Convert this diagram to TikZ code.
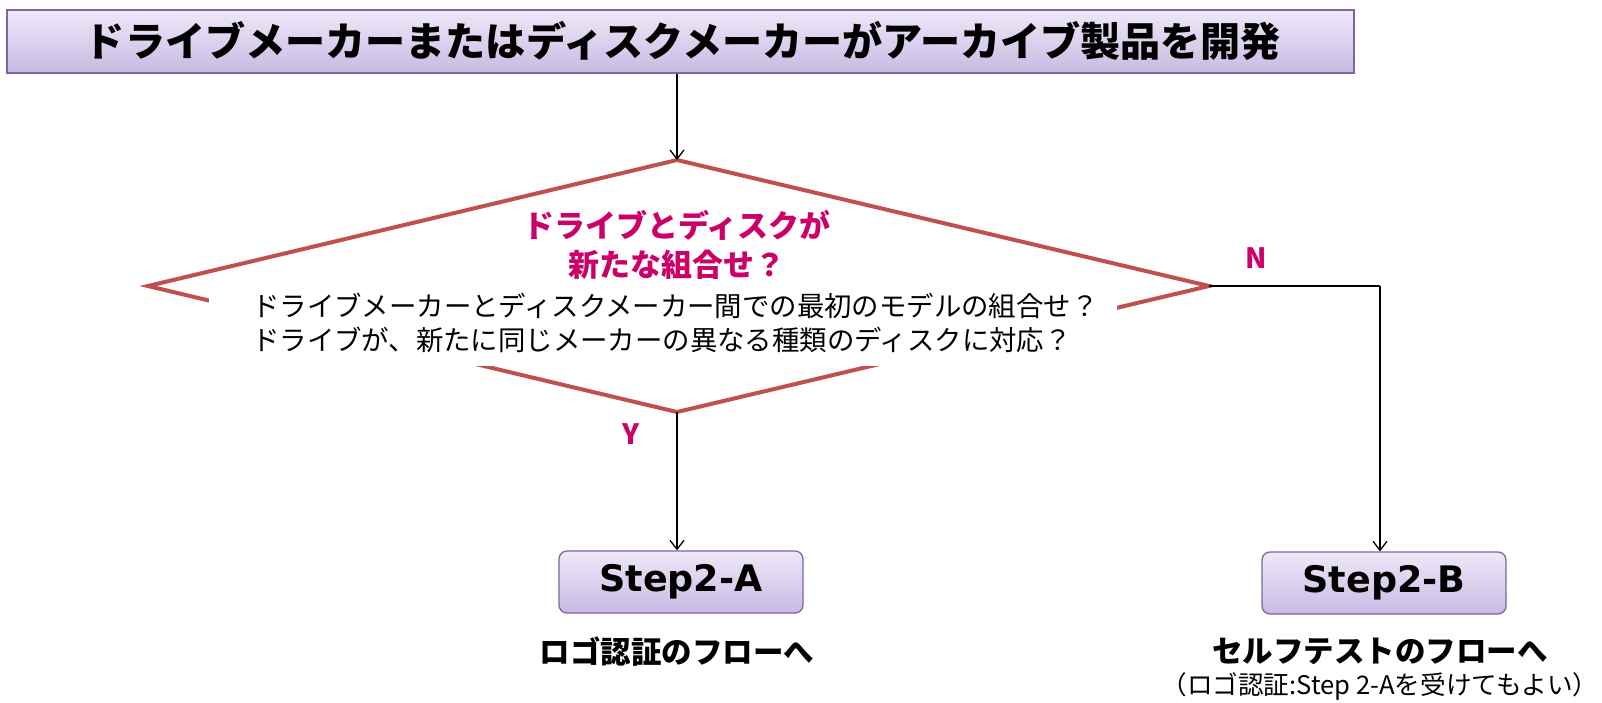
\documentclass[tikz,border=0pt]{standalone}
\usepackage{fontspec}
\setmainfont{Noto Sans CJK JP}
\newfontfamily\latfont{DejaVu Sans}
\usetikzlibrary{arrows.meta}
\definecolor{boxtop}{RGB}{238,232,248}
\definecolor{boxbot}{RGB}{201,186,227}
\definecolor{boxborder}{RGB}{128,100,162}
\definecolor{diared}{RGB}{192,80,77}
\definecolor{qpink}{RGB}{204,0,102}
\tikzset{
  purplebox/.style={draw=boxborder, line width=1.3pt, top color=boxtop, bottom color=boxbot, inner sep=0pt},
  stepbox/.style={purplebox, rounded corners=8pt, minimum width=244pt, minimum height=62pt, font=\latfont\bfseries\fontsize{36.5}{40}\selectfont},
  arr/.style={-{Straight Barb[length=9pt,width=14pt]}, line width=1.3pt, black},
  dia/.style={draw=diared, line width=4pt, line join=miter},
  pinklbl/.style={text=qpink, font=\bfseries\fontsize{28}{30}\selectfont, inner sep=0pt},
}
\begin{document}
\begin{tikzpicture}[x=1pt,y=-1pt]
\useasboundingbox (0,0) rectangle (1602,702);
% title
\node[purplebox, minimum width=1347pt, minimum height=63pt] (title) at (680.5,41.5) {};
\node[font=\bfseries\fontsize{40.1}{44}\selectfont, inner sep=0pt] (tt) at (683,41) {ドライブメーカーまたはディスクメーカーがアーカイブ製品を開発};
% diamond
\coordinate (dt) at (677,160);
\coordinate (dl) at (148,286);
\coordinate (dr) at (1209,286);
\coordinate (db) at (677,412);
\draw[dia] (dt) -- (dr) -- (db) -- (dl) -- cycle;
\node[fill=white, minimum width=908pt, minimum height=80pt, inner sep=0pt] (mask) at (663,326) {};
\node[text=qpink, align=center, font=\bfseries\fontsize{31}{39}\selectfont, inner sep=0pt] (qt) at (677,245) {ドライブとディスクが\\新たな組合せ？};
\node[anchor=west, align=left, font=\fontsize{27.4}{34}\selectfont, inner sep=0pt] (q) at (252,323) {ドライブメーカーとディスクメーカー間での最初のモデルの組合せ？\\ドライブが、新たに同じメーカーの異なる種類のディスクに対応？};
% step boxes
\node[stepbox] (sa) at (681,582) {Step2-A};
\node[stepbox] (sb) at (1384,583) {Step2-B};
% labels
\node[pinklbl] (nl) at (1256,258) {N};
\node[pinklbl] (yl) at (631,434) {Y};
\node[font=\bfseries\fontsize{30.5}{34}\selectfont, inner sep=0pt] (la) at (677,652) {ロゴ認証のフローへ};
\node[font=\bfseries\fontsize{30.5}{34}\selectfont, inner sep=0pt] (lb) at (1380,651) {セルフテストのフローへ};
\node[font=\fontsize{25.6}{30}\selectfont, inner sep=0pt] (lc) at (1380,686) {（ロゴ認証:Step 2-Aを受けてもよい）};
% connectors
\coordinate (bc) at (1380,286);
\draw[arr] (title.south -| dt) -- (dt);
\draw[arr] (db) -- (db |- sa.north);
\draw[line width=1.3pt] (dr) -- (bc);
\draw[arr] (bc) -- (bc |- sb.north);
\end{tikzpicture}
\end{document}
